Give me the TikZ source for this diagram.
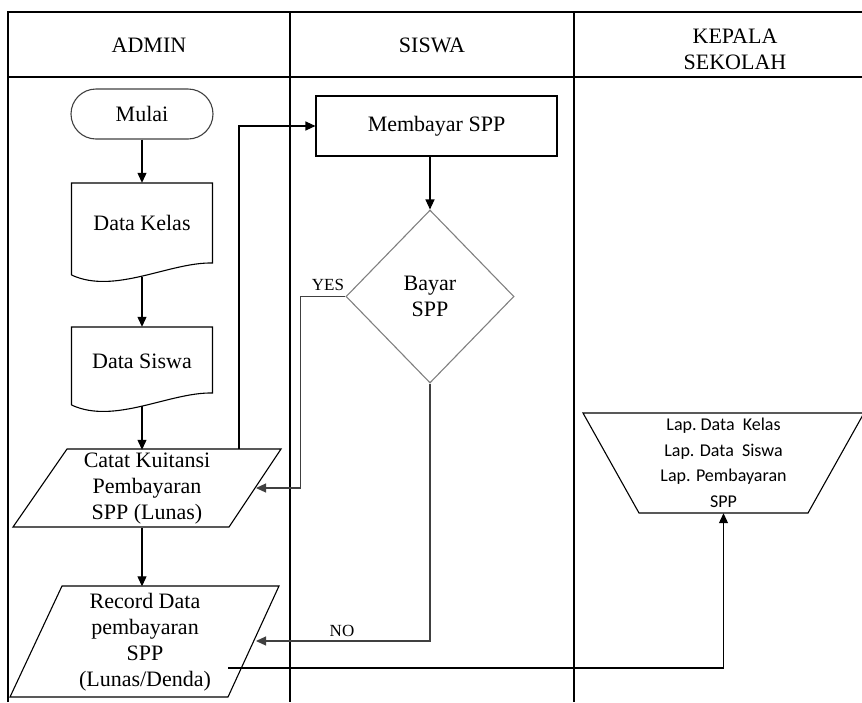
\documentclass[tikz,border=0pt]{standalone}
\usepackage{fontspec}
\setmainfont{Liberation Serif}
\newfontfamily\lapfont{Carlito}
\usetikzlibrary{shapes.geometric,arrows.meta}

\definecolor{midgray}{RGB}{128,128,128}
\definecolor{darkline}{RGB}{64,64,64}

\tikzset{
  line/.style={line width=1.1pt, black},
  arr/.style={line width=1.1pt, black, -{Triangle[length=10pt,width=9pt]}},
  darr/.style={arr, darkline},
  lbl/.style={font=\fontsize{22}{26}\selectfont, align=center, inner sep=0pt},
  small/.style={font=\fontsize{17}{20}\selectfont, inner sep=0pt},
  lapstyle/.style={font=\lapfont\fontsize{18}{25.5}\selectfont, align=center, inner sep=0pt},
  % document symbol with a wavy lower edge; #1 = height of its left side
  pics/docbox/.style={code={
    \draw[line] (0,#1) -- (0,0) -- (141,0) -- (141,#1-12)
      .. controls (98,#1-13) and (43,#1+20) .. (0,#1);
  }},
}

\begin{document}
\begin{tikzpicture}[x=1pt, y=-1pt]
\useasboundingbox (0,0) rectangle (862,702);
\clip (0,0) rectangle (862,702);

% swimlane frame
\draw[line, line width=1.2pt] (8,702) -- (8,12) -- (900,12);
\draw[line, line width=1.2pt] (8,77) -- (900,77);
\draw[line, line width=1.2pt] (290,12) -- (290,702);
\draw[line, line width=1.2pt] (574,12) -- (574,702);
\draw[line, line width=1.2pt] (896,12) -- (896,702);

% lane headers
\node[lbl] (hadmin) at (149,45) {ADMIN};
\node[lbl] (hsiswa) at (432,45) {SISWA};
\node[lbl] (hkepala) at (735,49) {KEPALA\\SEKOLAH};

% ADMIN lane
\node[lbl, draw=darkline, line width=1.1pt, rounded corners=25pt,
      minimum width=142, minimum height=50] (mulai) at (142,114) {Mulai};

\pic at (71.5,183) {docbox=92};
\node[lbl, minimum width=141, minimum height=80] (kelas) at (142,223) {Data Kelas};
\coordinate (kelasout) at (142,277);

\pic at (71.5,327) {docbox=78};
\node[lbl, minimum width=141, minimum height=68] (siswa) at (142,361) {Data Siswa};
\coordinate (siswaout) at (142,406);

\draw[line] (67,449) -- (281,449) -- (229,527) -- (13,527) -- cycle;
\node[lbl, minimum height=78] (catat) at (147,489) {Catat Kuitansi\\Pembayaran\\SPP (Lunas)};
\coordinate (catatup) at (239,449);
\coordinate (catatin) at (256,488);

\draw[line] (62,586) -- (279,586) -- (228,697) -- (10,697) -- cycle;
\node[lbl, minimum height=111] (record) at (145,642) {Record Data\\pembayaran\\SPP\\(Lunas/Denda)};
\coordinate (recin) at (256,641);
\coordinate (recout) at (228,668);

% SISWA lane
\node[lbl, draw, line width=1.1pt, minimum width=241, minimum height=60] (bayar) at (436.5,126) {Membayar SPP};
\node[lbl, diamond, draw=midgray, line width=1.1pt, minimum width=168, minimum height=173] (dec) at (430,296.5) {Bayar\\SPP};

% KEPALA SEKOLAH lane
\draw[line] (583,413) -- (864,413) -- (808,513) -- (639,513) -- cycle;
\node[lapstyle, minimum height=100] (lap) at (723.5,463)
  {\frenchspacing Lap. Data~~Kelas\\Lap. Data~~Siswa\\Lap. Pembayaran\\SPP};

% flow
\draw[arr] (mulai.south) -- (kelas.north);
\draw[arr] (kelasout) -- (siswa.north);
\draw[arr] (siswaout) -- (siswaout |- catat.north);
\draw[arr] (siswaout |- catat.south) -- (siswaout |- record.north);
\draw[arr] (catatup) |- (bayar.west);
\draw[arr] (bayar.south -| dec.north) -- (dec.north);
\draw[darr] (dec.west) -- ++(-45,0) |- (catatin);
\draw[darr] (dec.south) |- (recin);
\draw[arr] (recout) -| (lap.south);

% branch labels
\node[small] (yes) at (328,285) {YES};
\node[small] (no) at (342,631) {NO};
\end{tikzpicture}
\end{document}
